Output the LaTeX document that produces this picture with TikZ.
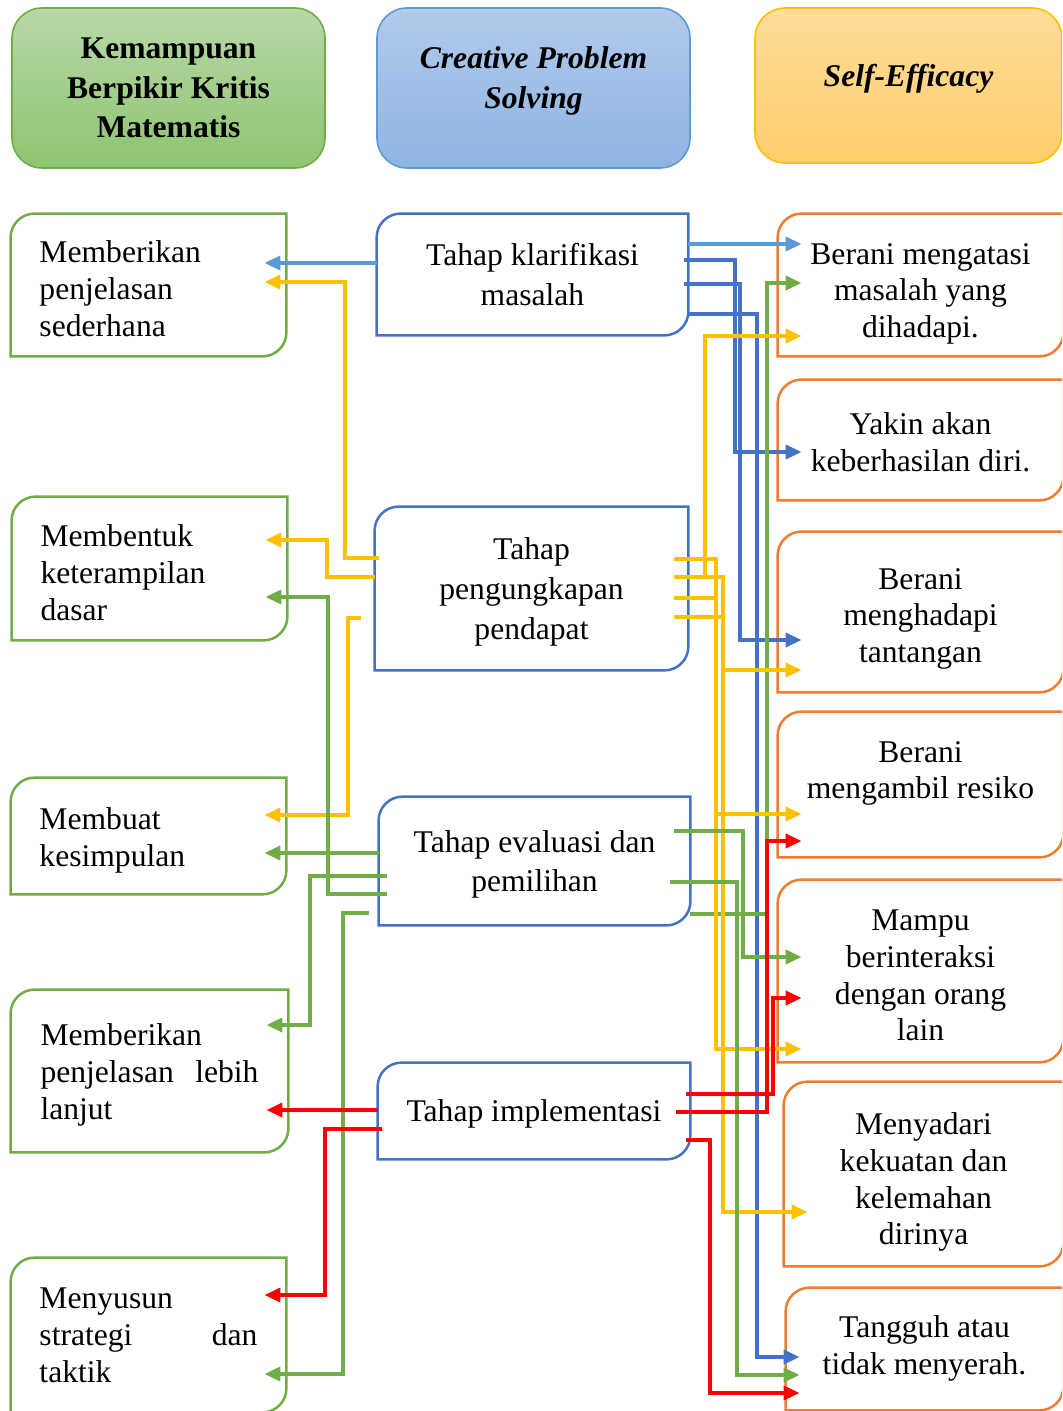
\documentclass[tikz,border=0pt]{standalone}
\usepackage{fontspec}
\setmainfont{Liberation Serif}
\usetikzlibrary{arrows.meta,calc}
\definecolor{grass}{RGB}{112,173,71}
\definecolor{royal}{RGB}{68,114,196}
\definecolor{sky}{RGB}{91,155,213}
\definecolor{tangerine}{RGB}{237,125,49}
\definecolor{gold}{RGB}{255,192,0}
\definecolor{scarlet}{RGB}{255,0,0}
\definecolor{grasstop}{RGB}{184,216,168}
\definecolor{grassbot}{RGB}{142,196,112}
\definecolor{skytop}{RGB}{178,202,235}
\definecolor{skybot}{RGB}{142,180,227}
\definecolor{goldtop}{RGB}{254,221,154}
\definecolor{goldbot}{RGB}{255,206,108}
\newcommand\hfont{\fontsize{15.8}{19.7}\selectfont\bfseries}
\tikzset{
  >={Triangle[length=8pt,width=7pt]},
  hdr/.style={draw=#1,line width=0.8pt,top color=#1top,bottom color=#1bot,rounded corners=15pt,
    minimum width=156.5pt,minimum height=80pt,align=center,font=\hfont},
  lbox/.style={minimum width=137.5pt,text width=109pt,align=left,text height=15pt,font=\fontsize{15.8}{18.5}\selectfont},
  mbox/.style={minimum width=155.5pt,align=center,text depth=-2pt,font=\fontsize{15.8}{19.8}\selectfont},
  rbox/.style={minimum width=142.5pt,align=center,text depth=0pt,font=\fontsize{15.8}{18.3}\selectfont},
  link/.style={->,line width=1.8pt,draw=#1},
  toL/.style={shorten >=-11pt},
  toR/.style={shorten >=-12pt},
  toRR/.style={shorten >=-7pt},
}
\begin{document}
\begin{tikzpicture}[x=0.5pt,y=-0.5pt]
\useasboundingbox (0,0) rectangle (1062,1411);
\clip (0,0) rectangle (1062,1411);
% column heads
\node[hdr=grass] (hk) at (168.5,88) {Kemampuan\\ Berpikir Kritis\\ Matematis};
\node[hdr=sky,text depth=10.5pt,font=\hfont\itshape] (hc) at (533.5,88) {Creative Problem\\ Solving};
\node[hdr=gold,minimum width=153.5pt,minimum height=77.5pt,text depth=10pt,font=\hfont\itshape] (hs) at (908.5,85.5) {Self-Efficacy};
% indicators
\node[lbox,minimum height=71pt] (l1) at (148.5,285) {Memberikan\\ penjelasan\\ sederhana};
\node[lbox,minimum height=71.5pt] (l2) at (149.5,568.5) {Membentuk\\ keterampilan\\ dasar};
\node[lbox,minimum height=58pt] (l3) at (148.5,836) {Membuat\\ kesimpulan};
\node[lbox,minimum width=138.5pt,minimum height=81pt] (l4) at (149.5,1071) {Memberikan\\ \makebox[109pt]{penjelasan\hfill lebih}\\ lanjut};
\node[lbox,minimum height=77pt,text height=11pt] (l5) at (148.5,1335) {Menyusun\\ \makebox[109pt]{strategi\hfill dan}\\ taktik};
% stages
\node[mbox,minimum height=60.5pt] (m1) at (532.5,274.5) {Tahap klarifikasi\\ masalah};
\node[mbox,minimum width=156.5pt,minimum height=81.5pt] (m2) at (531.5,588.5) {Tahap\\ pengungkapan\\ pendapat};
\node[mbox,minimum height=64pt] (m3) at (534.5,861) {Tahap evaluasi dan\\ pemilihan};
\node[mbox,minimum width=156pt,minimum height=48pt] (m4) at (534,1111) {Tahap implementasi};
% self-efficacy
\node[rbox,minimum height=71pt,text height=52.4pt] (r1) at (920.5,285) {Berani mengatasi\\ masalah yang\\ dihadapi.};
\node[rbox,minimum height=60pt,text height=31.1pt] (r2) at (920.5,440) {Yakin akan\\ keberhasilan diri.};
\node[rbox,minimum height=80pt,text height=50.4pt] (r3) at (920.5,612) {Berani\\ menghadapi\\ tantangan};
\node[rbox,minimum height=72.5pt,text depth=14.5pt] (r4) at (920.5,784.5) {Berani\\ mengambil resiko};
\node[rbox,minimum height=91pt,text height=69.7pt] (r5) at (920.5,971) {Mampu\\ berinteraksi\\ dengan orang\\ lain};
\node[rbox,minimum width=139.5pt,minimum height=92pt,text height=70.7pt] (r6) at (923.5,1174) {Menyadari\\ kekuatan dan\\ kelemahan\\ dirinya};
\node[rbox,minimum width=138.5pt,minimum height=61pt,text height=25.1pt] (r7) at (924.5,1349) {Tangguh atau\\ tidak menyerah.};
\foreach \n/\c in {l1/grass,l2/grass,l3/grass,l4/grass,l5/grass,m1/royal,m2/royal,m3/royal,m4/royal,
  r1/tangerine,r2/tangerine,r3/tangerine,r4/tangerine,r5/tangerine,r6/tangerine,r7/tangerine}
  \draw[\c,line width=1.25pt] (\n.south west) -- ([yshift=-12pt]\n.north west) arc[start angle=180,end angle=90,radius=12pt]
    -- (\n.north east) -- ([yshift=12pt]\n.south east) arc[start angle=0,end angle=-90,radius=12pt] -- cycle;
% links to the left
\draw[link=sky,toL] (m1.west|-0,263) -- (l1.east|-0,263);
\draw[link=gold,toL,shorten <=-2pt] (m2.west|-0,558) -- (345,558) -- (345,282) -- (l1.east|-0,282);
\draw[link=gold,toL] (m2.west|-0,577) -- (327,577) -- (327,540) -- (l2.east|-0,540);
\draw[link=gold,toL,shorten <=7pt] (m2.west|-0,618) -- (348,618) -- (348,815) -- (l3.east|-0,815);
\draw[link=grass,toL] (m3.west|-0,853) -- (l3.east|-0,853);
\draw[link=grass,toL,shorten <=-4pt] (m3.west|-0,876) -- (310,876) -- (310,1025) -- (l4.east|-0,1025);
\draw[link=grass,toL,shorten <=-4pt] (m3.west|-0,894) -- (328,894) -- (328,597) -- (l2.east|-0,597);
\draw[link=grass,toL,shorten <=5pt] (m3.west|-0,913) -- (343,913) -- (343,1374) -- (l5.east|-0,1374);
\draw[link=scarlet,toL] (m4.west|-0,1110) -- (l4.east|-0,1110);
\draw[link=scarlet,toL,shorten <=-2pt] (m4.west|-0,1129) -- (325,1129) -- (325,1295) -- (l5.east|-0,1295);
% links to the right
\draw[link=sky,toR] (m1.east|-0,244) -- (r1.west|-0,244);
\draw[link=royal,toR,shorten <=-2pt] (m1.east|-0,260) -- (735,260) -- (735,452) -- (r2.west|-0,452);
\draw[link=royal,toR,shorten <=-2pt] (m1.east|-0,284) -- (740,284) -- (740,640) -- (r3.west|-0,640);
\draw[link=royal,toRR] (m1.east|-0,314) -- (757,314) -- (757,1357) -- (r7.west|-0,1357);
\draw[link=grass,toR] (m3.east|-0,914) -- (767,914) -- (767,283) -- (r1.west|-0,283);
\draw[link=gold,toR,shorten <=-7pt] (m2.east|-0,577) -- (705,577) -- (705,336) -- (r1.west|-0,336);
\draw[link=gold,toR,shorten <=-7pt] (m2.east|-0,577) -- (723,577) -- (723,670) -- (r3.west|-0,670);
\draw[link=gold,toR,shorten <=-7pt] (m2.east|-0,598) -- (716,598) -- (716,814) -- (r4.west|-0,814);
\draw[link=gold,toR,shorten <=-7pt] (m2.east|-0,559) -- (716,559) -- (716,1049) -- (r5.west|-0,1049);
\draw[link=gold,toR,shorten <=-7pt] (m2.east|-0,617) -- (723,617) -- (723,1212) -- (r6.west|-0,1212);
\draw[link=grass,toR,shorten <=-8pt] (m3.east|-0,831) -- (743,831) -- (743,957) -- (r5.west|-0,957);
\draw[link=grass,toRR,shorten <=-10pt] (m3.east|-0,882) -- (737,882) -- (737,1375) -- (r7.west|-0,1375);
\draw[link=scarlet,toR,shorten <=-7pt] (m4.east|-0,1112) -- (767,1112) -- (767,841) -- (r4.west|-0,841);
\draw[link=scarlet,toR,shorten <=-2pt] (m4.east|-0,1094) -- (773,1094) -- (773,998) -- (r5.west|-0,998);
\draw[link=scarlet,toRR,shorten <=-2pt] (m4.east|-0,1140) -- (710,1140) -- (710,1393) -- (r7.west|-0,1393);
\end{tikzpicture}
\end{document}
